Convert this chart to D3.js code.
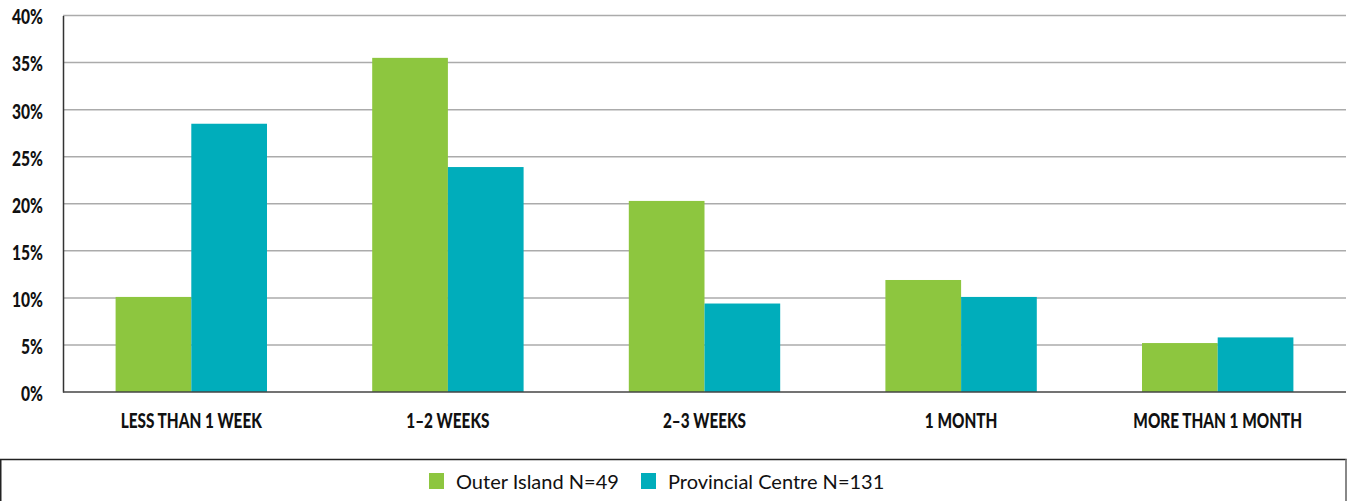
<!DOCTYPE html>
<html>
<head>
<meta charset="utf-8">
<script src="https://cdn.jsdelivr.net/npm/d3@7"></script>
<style>
  body { margin: 0; background: #fff; }
  .tick text, .cat { font-family: Lato, "DejaVu Sans", sans-serif; font-weight: 900; fill: #111; }
  .legend text { font-family: Lato, "Noto Sans", sans-serif; fill: #111; }
</style>
</head>
<body>
<svg id="chart" width="1354" height="501"></svg>
<script>
// 데이터
var categories = ["LESS THAN 1 WEEK", "1\u20132 WEEKS", "2\u20133 WEEKS", "1 MONTH", "MORE THAN 1 MONTH"];
var seriesNames = ["Outer Island N=49", "Provincial Centre N=131"];
var outerIsland = [10.1, 35.5, 20.3, 11.9, 5.2];
var provincialCentre = [28.5, 23.9, 9.4, 10.1, 5.8];
var yTicks = [0, 5, 10, 15, 20, 25, 30, 35, 40];
var colors = ["#8dc63f", "#00adbb"];

var svg = d3.select("#chart");
var margin = { left: 63, right: 8, top: 15.5, bottom: 109 };
var W = 1354, H = 501;
var condY = 0.78, condX = 0.73; // 좁은 글꼴 흉내

var x = d3.scaleBand().domain(categories)
	.range([margin.left, W - margin.right])
	.paddingInner(0.41).paddingOuter(0.205);
var x1 = d3.scaleBand().domain(seriesNames).range([0, x.bandwidth()]);
var y = d3.scaleLinear().domain([0, 40]).range([H - margin.bottom, margin.top]);

// 그리드라인
svg.append("g").selectAll("line").data(yTicks.slice(1)).enter().append("line")
	.attr("x1", margin.left).attr("x2", W - margin.right)
	.attr("y1", function(d){ return y(d); }).attr("y2", function(d){ return y(d); })
	.attr("stroke", "#ababab").attr("stroke-width", 1.5);

var rows = categories.map(function(c, i){ return { cat: c, vals: [outerIsland[i], provincialCentre[i]] }; });

var grp = svg.append("g").selectAll("g").data(rows).enter().append("g")
	.attr("transform", function(d){ return "translate(" + x(d.cat) + ",0)"; });
grp.selectAll("rect").data(function(d){ return d.vals.map(function(v, j){ return { s: seriesNames[j], v: v, j: j }; }); })
	.enter().append("rect")
	.attr("x", function(d){ return x1(d.s); })
	.attr("width", x1.bandwidth())
	.attr("y", function(d){ return y(d.v); })
	.attr("height", function(d){ return y(0) - y(d.v); })
	.attr("fill", function(d){ return colors[d.j]; });

// y축
var yAxis = svg.append("g").attr("transform", "translate(" + margin.left + ",0)")
	.call(d3.axisLeft(y).tickValues(yTicks).tickSize(0).tickPadding(20).tickFormat(function(d){ return d + "%"; }));
yAxis.select(".domain").attr("stroke", "#333").attr("stroke-width", 1.5);
yAxis.selectAll(".tick text")
	.attr("font-size", 20).attr("dy", "0.42em")
	.attr("x", -20 / condY)
	.attr("transform", "scale(" + condY + ",1)");

// x축
svg.append("line")
	.attr("x1", margin.left).attr("x2", W - margin.right)
	.attr("y1", y(0)).attr("y2", y(0))
	.attr("stroke", "#444").attr("stroke-width", 1.5);
svg.append("g").selectAll("text").data(categories).enter().append("text")
	.attr("class", "cat")
	.attr("transform", function(d){ return "translate(" + (x(d) + x.bandwidth() / 2) + ",428) scale(" + condX + ",1)"; })
	.attr("text-anchor", "middle")
	.attr("font-size", 21)
	.text(function(d){ return d; });

// 범례
var lg = svg.append("g").attr("class", "legend");
lg.append("path").attr("d", "M0.75,501V459.5H1346V501")
	.attr("fill", "none").attr("stroke", "#222").attr("stroke-width", 1.5);
lg.select("path").clone().attr("d", "M1346,459.5V501").attr("stroke", "#888").attr("stroke-width", 2);
var legendX = [429, 641];
seriesNames.forEach(function(s, i){
	lg.append("rect").attr("x", legendX[i]).attr("y", 473).attr("width", 15).attr("height", 16).attr("fill", colors[i]);
	lg.append("text").attr("x", legendX[i] + 27).attr("y", 489).attr("font-size", 20).text(s);
});
</script>
</body>
</html>
